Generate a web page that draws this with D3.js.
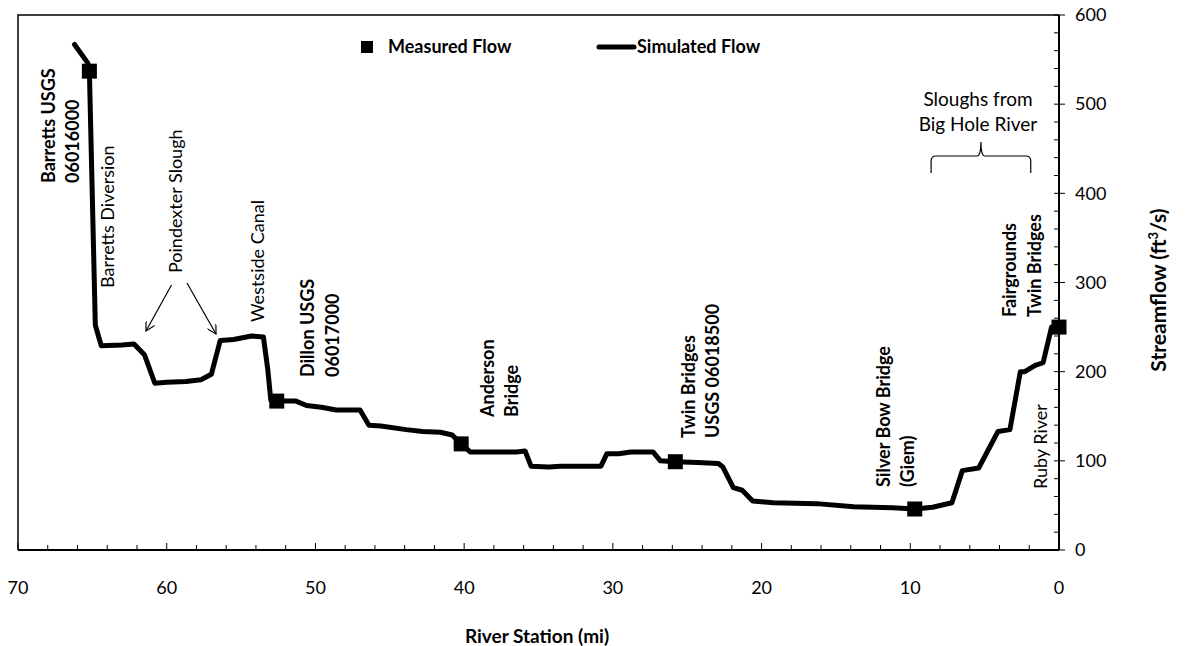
<!DOCTYPE html>
<html>
<head>
<meta charset="utf-8">
<script src="https://cdn.jsdelivr.net/npm/d3@7"></script>
<style>
  html, body { margin: 0; padding: 0; background: #fff; }
  svg { display: block; font-family: Lato, "Open Sans", sans-serif; }
</style>
</head>
<body>
<svg id="chart" width="1186" height="646"></svg>
<script>
// Simulated streamflow along the river (river station in miles, flow in ft3/s)
const simStation = [66.2, 65.3, 65.2, 64.8, 64.4, 63.0, 62.2, 61.5, 60.8, 60.0, 58.7, 57.7, 57.0, 56.4, 55.5, 54.3, 53.5, 53.2, 53.0, 52.6, 51.3, 50.6, 49.6, 48.6, 47.0, 46.4, 45.6, 43.9, 42.8, 41.6, 40.8, 40.2, 39.6, 38.2, 36.5, 35.9, 35.5, 34.3, 33.5, 32.2, 30.8, 30.4, 29.6, 28.8, 27.3, 26.8, 25.8, 24.3, 22.9, 22.6, 21.9, 21.3, 20.6, 19.2, 16.3, 13.8, 11.2, 9.7, 8.5, 7.2, 6.5, 5.4, 4.1, 3.3, 2.6, 2.3, 1.6, 1.07, 0.5, 0.0];
const simFlow    = [567, 546, 537, 252, 229, 230, 231, 219, 187, 188, 189, 191, 197, 235, 236, 240, 239, 202, 168, 167, 167, 162, 160, 157, 157, 140, 139, 135, 133, 132, 129, 119, 110, 110, 110, 111, 94, 93, 94, 94, 94, 108, 108, 110, 110, 100, 99, 98, 97, 93, 70, 67, 55, 53, 52, 48.5, 47.5, 46, 48, 53, 89, 92, 133, 135, 200, 200, 207, 210, 250, 250];

// Measured streamflow at gauging sites
const measStation = [65.2, 52.6, 40.2, 25.8, 9.7, 0.0];
const measFlow    = [537, 167, 119, 99, 46, 250];

// Axis ticks
const xTicks = [70, 60, 50, 40, 30, 20, 10, 0];
const yTicks = [0, 100, 200, 300, 400, 500, 600];

// Site labels (rotated): station, lines, bold flag, start of text (screen y)
const siteStation = [67.95, 64.0, 59.4, 53.9, 50.5, 38.45, 24.9, 11.8, 3.3, 1.2];
const siteLines = [
  ["Barretts USGS", "06016000"],
  ["Barretts Diversion"],
  ["Poindexter Slough"],
  ["Westside Canal"],
  ["Dillon USGS", "06017000"],
  ["Anderson", "Bridge"],
  ["Twin Bridges", "USGS 06018500"],
  ["Silver Bow Bridge", "(Giem)"],
  ["Fairgrounds", "Twin Bridges"],
  ["Ruby River"]
];
const siteBold = [true, false, false, false, true, true, true, true, true, false];
const siteBase = [183, 288, 273, 322, 377, 417, 438, 487, 317, 489];

const svg = d3.select("#chart");
const margin = { left: 18, right: 1059, top: 15, bottom: 550 };

const x = d3.scaleLinear().domain([70, 0]).range([margin.left, margin.right]);
const y = d3.scaleLinear().domain([0, 600]).range([margin.bottom, margin.top]);

// Frame (top and left)
svg.append("path")
  .attr("d", `M${margin.left},${margin.bottom}V${margin.top}H${margin.right}`)
  .attr("fill", "none").attr("stroke", "#000").attr("stroke-width", 1.5);

// Bottom axis: minor ticks every 2 mi, major every 10 mi, pointing inward
const xAxisG = svg.append("g").attr("transform", `translate(0,${margin.bottom})`);
xAxisG.append("line").attr("x1", margin.left).attr("x2", margin.right)
  .attr("stroke", "#000").attr("stroke-width", 2);
xAxisG.selectAll("line.minor").data(d3.range(0, 71, 2))
  .join("line").attr("class", "minor")
  .attr("x1", d => x(d)).attr("x2", d => x(d))
  .attr("y1", 0).attr("y2", d => d % 10 === 0 ? -7 : -5)
  .attr("stroke", "#000").attr("stroke-width", 1);
xAxisG.selectAll("text").data(xTicks).join("text")
  .attr("x", d => x(d)).attr("y", 44)
  .attr("text-anchor", "middle").attr("font-size", 18).attr("fill", "#000")
  .text(d => d);

// Right axis: major ticks outward, minor every 20 inward
const yAxisG = svg.append("g").attr("transform", `translate(${margin.right},0)`);
yAxisG.append("line").attr("y1", margin.top).attr("y2", margin.bottom)
  .attr("stroke", "#000").attr("stroke-width", 2);
yAxisG.selectAll("line.minor").data(d3.range(20, 600, 20).filter(d => d % 100 !== 0))
  .join("line").attr("class", "minor")
  .attr("y1", d => y(d)).attr("y2", d => y(d))
  .attr("x1", 0).attr("x2", -5)
  .attr("stroke", "#000").attr("stroke-width", 1);
yAxisG.selectAll("line.major").data(yTicks)
  .join("line").attr("class", "major")
  .attr("y1", d => y(d)).attr("y2", d => y(d))
  .attr("x1", -5).attr("x2", 6)
  .attr("stroke", "#000").attr("stroke-width", 1);
yAxisG.selectAll("text").data(yTicks).join("text")
  .attr("x", 16).attr("y", d => y(d)).attr("dy", "0.35em")
  .attr("font-size", 18).attr("fill", "#000")
  .text(d => d);

// Axis titles
svg.append("text")
  .attr("x", 537).attr("y", 643)
  .attr("text-anchor", "middle").attr("font-size", 19).attr("font-weight", "bold")
  .text("River Station (mi)");
const yt = svg.append("text")
  .attr("transform", "translate(1166,290) rotate(-90)")
  .attr("text-anchor", "middle").attr("font-size", 21).attr("font-weight", "bold");
yt.append("tspan").text("Streamflow (ft");
yt.append("tspan").attr("font-size", 13).attr("dy", -8).text("3");
yt.append("tspan").attr("dy", 8).text("/s)");

// Simulated flow line
const simData = simStation.map((s, i) => ({ s, q: simFlow[i] }));
svg.append("path")
  .datum(simData)
  .attr("d", d3.line().x(d => x(d.s)).y(d => y(d.q)))
  .attr("fill", "none").attr("stroke", "#000")
  .attr("stroke-width", 5).attr("stroke-linejoin", "round").attr("stroke-linecap", "round");

// Measured flow squares
const measData = measStation.map((s, i) => ({ s, q: measFlow[i] }));
svg.selectAll("rect.meas").data(measData).join("rect").attr("class", "meas")
  .attr("x", d => x(d.s) - 7.5).attr("y", d => y(d.q) - 7.5)
  .attr("width", 15).attr("height", 15).attr("fill", "#000");

// Site labels, centred on their x position
siteStation.forEach((s, i) => {
  const t = svg.append("text")
    .attr("transform", `translate(${x(s)},${siteBase[i]}) rotate(-90)`)
    .attr("font-size", 18)
    .attr("font-weight", siteBold[i] ? "bold" : "normal")
    .attr("fill", "#000");
  siteLines[i].forEach((ln, j) => {
    t.append("tspan").attr("x", 0).attr("dy", j === 0 ? "0.35em" : 24.5).text(ln);
  });
});

// Arrows for Poindexter Slough
const defs = svg.append("defs");
defs.append("marker").attr("id", "openArrow")
  .attr("viewBox", "0 0 10 10").attr("refX", 9).attr("refY", 5)
  .attr("markerWidth", 10).attr("markerHeight", 10).attr("orient", "auto")
  .attr("markerUnits", "userSpaceOnUse")
  .append("path").attr("d", "M0,0L9,5L0,10")
  .attr("fill", "none").attr("stroke", "#000").attr("stroke-width", 1.2);
svg.append("line").attr("x1", 171.5).attr("y1", 285).attr("x2", 146).attr("y2", 331)
  .attr("stroke", "#000").attr("stroke-width", 1.2).attr("marker-end", "url(#openArrow)");
svg.append("line").attr("x1", 187).attr("y1", 283).attr("x2", 216).attr("y2", 334)
  .attr("stroke", "#000").attr("stroke-width", 1.2).attr("marker-end", "url(#openArrow)");

// Sloughs brace and label
const bx0 = x(8.6), bx1 = x(1.9), bxm = (bx0 + bx1) / 2;
svg.append("path")
  .attr("d", `M${bx0},173 V161 Q${bx0},156 ${bx0 + 5},156 H${bxm - 4} Q${bxm},156 ${bxm},142 Q${bxm},156 ${bxm + 4},156 H${bx1 - 5} Q${bx1},156 ${bx1},161 V173`)
  .attr("fill", "none").attr("stroke", "#000").attr("stroke-width", 1.2);
const sl = svg.append("text").attr("text-anchor", "middle").attr("font-size", 19);
sl.append("tspan").attr("x", 978).attr("y", 106).text("Sloughs from");
sl.append("tspan").attr("x", 978).attr("y", 131).text("Big Hole River");

// Legend
svg.append("rect").attr("x", 361).attr("y", 41).attr("width", 12).attr("height", 12).attr("fill", "#000");
svg.append("text").attr("x", 388).attr("y", 53).attr("font-size", 18).attr("font-weight", "bold").text("Measured Flow");
svg.append("line").attr("x1", 599).attr("x2", 634).attr("y1", 47).attr("y2", 47)
  .attr("stroke", "#000").attr("stroke-width", 5).attr("stroke-linecap", "round");
svg.append("text").attr("x", 637).attr("y", 53).attr("font-size", 18).attr("font-weight", "bold").text("Simulated Flow");
</script>
</body>
</html>
